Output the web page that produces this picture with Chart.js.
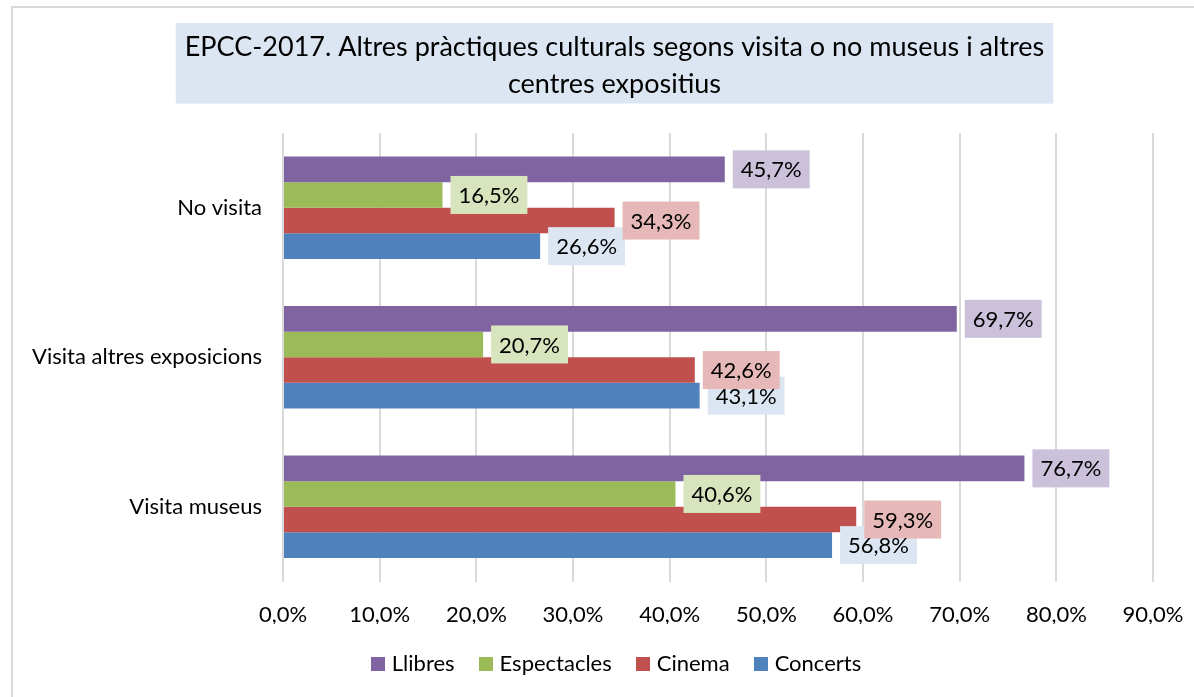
<!DOCTYPE html>
<html>
<head>
<meta charset="utf-8">
<script src="https://cdn.jsdelivr.net/npm/chart.js@4/dist/chart.umd.min.js"></script>
<style>
html,body{margin:0;padding:0;background:#fff;}
#wrap{width:1194px;height:697px;position:relative;}
</style>
</head>
<body>
<div id="wrap"><canvas id="c" width="1194" height="697"></canvas></div>
<script>
const categories = ['No visita', 'Visita altres exposicions', 'Visita museus'];
const seriesNames = ['Llibres', 'Espectacles', 'Cinema', 'Concerts'];
const llibres = [45.7, 69.7, 76.7];
const espectacles = [16.5, 20.7, 40.6];
const cinema = [34.3, 42.6, 59.3];
const concerts = [26.6, 43.1, 56.8];
const xTicks = [0, 10, 20, 30, 40, 50, 60, 70, 80, 90];
const titleLines = ['EPCC-2017. Altres pràctiques culturals segons visita o no museus i altres', 'centres expositius'];

const barColors = ['#8064A2', '#9BBB59', '#C0504D', '#4F81BD'];
const labelFills = ['#CCC1DA', '#D7E4BD', '#E6B9B8', '#DCE6F2'];
const FONT = 'Lato, "Noto Sans", sans-serif';

const fmt = v => v.toFixed(1).replace('.', ',') + '%';

const seriesValues = [llibres, espectacles, cinema, concerts];

const framePlugin = {
  id: 'frame',
  afterLayout(chart) {
    // nudge legend slightly to the right, as in the reference
    if (chart.legend) { chart.legend.left += 4; chart.legend.right += 4; }
  },
  beforeDraw(chart) {
    const ctx = chart.ctx;
    ctx.save();
    ctx.fillStyle = '#fff';
    ctx.fillRect(0, 0, chart.width, chart.height);
    ctx.strokeStyle = '#D9D9D9';
    ctx.lineWidth = 2;
    ctx.strokeRect(12, 7, chart.width + 20, chart.height + 20);
    // title background
    const tb = chart.titleBlock;
    const topt = chart.options.plugins.title;
    ctx.font = `${topt.font.size}px ${topt.font.family}`;
    let w = 0;
    titleLines.forEach(t => { w = Math.max(w, ctx.measureText(t).width); });
    const cx = (tb.left + tb.right) / 2;
    const padX = 9;
    const top = tb.top + topt.padding.top - 5;
    const bottom = tb.bottom - topt.padding.bottom;
    ctx.fillStyle = '#DCE6F2';
    ctx.fillRect(cx - w / 2 - padX, top, w + 2 * padX, bottom - top);
    ctx.restore();
  }
};

const valueLabelPlugin = {
  id: 'valueLabels',
  afterDatasetsDraw(chart, args, opts) {
    const ctx = chart.ctx;
    ctx.save();
    ctx.font = `${opts.size}px ${opts.family}`;
    ctx.textBaseline = 'middle';
    ctx.textAlign = 'left';
    const items = [];
    // last series first, so earlier series' boxes sit on top
    for (let di = chart.data.datasets.length - 1; di >= 0; di--) {
      const ds = chart.data.datasets[di];
      const meta = chart.getDatasetMeta(di);
      meta.data.forEach((bar, i) => {
        const txt = fmt(ds.data[i]);
        const tw = ctx.measureText(txt).width;
        items.push({ di, txt, x: bar.x + opts.offset, y: bar.y, w: tw + 2 * opts.padX });
      });
    }
    items.forEach(it => {
      ctx.fillStyle = labelFills[it.di];
      ctx.fillRect(it.x, it.y - opts.boxHeight / 2, it.w, opts.boxHeight);
    });
    ctx.fillStyle = '#000';
    items.forEach(it => {
      ctx.fillText(it.txt, it.x + opts.padX, it.y + 1);
    });
    ctx.restore();
  }
};

function squareStyle(color) {
  const c = document.createElement('canvas');
  c.width = 14; c.height = 14;
  const g = c.getContext('2d');
  g.fillStyle = color;
  g.fillRect(0, 0, 14, 14);
  return c;
}
const legendSquares = barColors.map(squareStyle);

new Chart(document.getElementById('c'), {
  type: 'bar',
  data: {
    labels: categories,
    datasets: seriesNames.map((name, i) => ({
      label: name,
      data: seriesValues[i],
      backgroundColor: barColors[i],
      borderWidth: 0,
      categoryPercentage: 0.685,
      barPercentage: 1.0
    }))
  },
  options: {
    indexAxis: 'y',
    responsive: false,
    animation: false,
    layout: { padding: { left: 76, right: 41, top: 0, bottom: 12 } },
    scales: {
      x: {
        min: 0,
        max: 90,
        afterBuildTicks: s => { s.ticks = xTicks.map(v => ({ value: v })); },
        ticks: {
          callback: v => fmt(v),
          font: { family: FONT, size: 22 },
          color: '#000',
          padding: 20
        },
        grid: { color: '#D9D9D9', lineWidth: 2, drawTicks: false },
        border: { display: false },
        afterFit: s => { s.height = 42.5; s.paddingRight = 0; s.paddingLeft = 0; }
      },
      y: {
        ticks: {
          font: { family: FONT, size: 22 },
          color: '#000',
          padding: 21
        },
        grid: { display: false, drawTicks: false },
        border: { display: false },
        afterFit: s => { s.width = 207; s._computeLabelArea = () => undefined; }
      }
    },
    plugins: {
      title: {
        display: true,
        text: titleLines,
        font: { family: FONT, size: 27, weight: 'normal', lineHeight: 1.4 },
        color: '#000',
        padding: { top: 28, bottom: 29.4 }
      },
      legend: {
        position: 'bottom',
        labels: {
          usePointStyle: true,
          pointStyleWidth: 5,
          boxHeight: 14,
          padding: 29,
          color: '#000',
          font: { family: FONT, size: 22 },
          generateLabels: chart => {
            const items = Chart.defaults.plugins.legend.labels.generateLabels(chart);
            items.forEach((it, i) => { it.pointStyle = legendSquares[i]; });
            return items;
          }
        }
      },
      tooltip: { enabled: false },
      valueLabels: { family: FONT, size: 22, offset: 8, padX: 8, boxHeight: 38 }
    }
  },
  plugins: [framePlugin, valueLabelPlugin]
});
</script>
</body>
</html>
